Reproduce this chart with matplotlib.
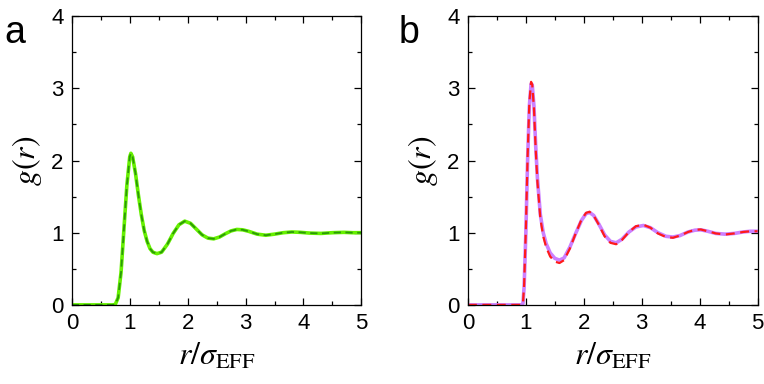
"""Radial distribution functions g(r) for two systems (panels a and b)."""
import matplotlib
matplotlib.use("Agg")
import matplotlib.pyplot as plt
from matplotlib.ticker import MultipleLocator

plt.rcParams["font.family"] = ["Liberation Sans", "DejaVu Sans"]
plt.rcParams["mathtext.fontset"] = "stix"

# panel a: reference (solid) and model (dashed) overlap
r_a = [0.0, 0.70, 0.75, 0.80, 0.85, 0.90, 0.95, 1.00, 1.02, 1.05, 1.10, 1.15,
       1.20, 1.25, 1.30, 1.35, 1.40, 1.47, 1.55, 1.65, 1.75, 1.85, 1.95, 2.05,
       2.15, 2.25, 2.35, 2.45, 2.55, 2.65, 2.75, 2.85, 2.95, 3.05, 3.20, 3.35,
       3.50, 3.65, 3.80, 3.95, 4.10, 4.30, 4.50, 4.70, 4.85, 5.00]
g_a = [0.0, 0.0, 0.005, 0.10, 0.45, 1.05, 1.65, 2.05, 2.10, 2.05, 1.82, 1.52,
       1.25, 1.03, 0.88, 0.78, 0.73, 0.71, 0.73, 0.84, 0.99, 1.11, 1.16, 1.13,
       1.05, 0.97, 0.925, 0.915, 0.94, 0.985, 1.025, 1.045, 1.04, 1.02, 0.98, 0.965,
       0.98, 1.0, 1.01, 1.005, 0.995, 0.99, 1.0, 1.005, 1.0, 1.0]

# panel b
r_b = [0.0, 0.93, 0.95, 0.97, 1.00, 1.03, 1.06, 1.09, 1.11, 1.14, 1.17, 1.20,
       1.25, 1.30, 1.35, 1.42, 1.50, 1.58, 1.66, 1.76, 1.86, 1.96, 2.04, 2.10,
       2.17, 2.26, 2.36, 2.46, 2.56, 2.66, 2.78, 2.90, 3.03, 3.15, 3.28, 3.42,
       3.54, 3.66, 3.80, 3.92, 4.02, 4.14, 4.28, 4.44, 4.60, 4.75, 4.88, 5.00]
g_b_solid = [0.0, 0.0, 0.02, 0.25, 1.0, 2.0, 2.75, 3.06, 3.05, 2.75, 2.2, 1.75,
             1.25, 1.0, 0.85, 0.72, 0.645, 0.62, 0.65, 0.80, 0.99, 1.17, 1.265, 1.28,
             1.24, 1.12, 0.97, 0.88, 0.86, 0.91, 1.01, 1.08, 1.10, 1.07, 1.0, 0.95,
             0.94, 0.96, 1.01, 1.035, 1.04, 1.02, 0.99, 0.98, 0.99, 1.01, 1.02, 1.02]
g_b_dash = [0.0, 0.0, 0.02, 0.28, 1.05, 2.05, 2.80, 3.09, 3.05, 2.72, 2.15, 1.70,
            1.20, 0.95, 0.80, 0.67, 0.60, 0.58, 0.62, 0.78, 0.99, 1.18, 1.275, 1.29,
            1.24, 1.11, 0.95, 0.86, 0.84, 0.90, 1.01, 1.09, 1.11, 1.07, 0.99, 0.94,
            0.93, 0.96, 1.01, 1.04, 1.045, 1.02, 0.99, 0.975, 0.99, 1.01, 1.02, 1.02]

fig = plt.figure(figsize=(7.64, 3.84), dpi=100)
ax_a = fig.add_axes([0.094, 0.206, 0.379, 0.752])
ax_b = fig.add_axes([0.6125, 0.206, 0.379, 0.752])

ax_a.plot(r_a, g_a, color="#66f000", lw=2.6, solid_capstyle="round")
ax_a.plot(r_a, g_a, color="#2a9a08", lw=1.3, dashes=(4, 2.5))

ax_b.plot(r_b, g_b_solid, color="#cc80ff", lw=2.6)
ax_b.plot(r_b, g_b_dash, color="#ff1a1a", lw=1.6, dashes=(4, 2.5))

for ax, tag, xpos in [(ax_a, "a", 0.02), (ax_b, "b", 0.535)]:
    ax.set_xlim(0, 5)
    ax.set_ylim(0, 4)
    ax.xaxis.set_major_locator(MultipleLocator(1))
    ax.xaxis.set_minor_locator(MultipleLocator(0.5))
    ax.yaxis.set_major_locator(MultipleLocator(1))
    ax.yaxis.set_minor_locator(MultipleLocator(0.5))
    ax.tick_params(which="both", direction="in", top=True, right=True,
                   width=0.9, labelsize=16, pad=6)
    ax.tick_params(which="major", length=5)
    ax.tick_params(which="minor", length=3)
    for s in ax.spines.values():
        s.set_linewidth(0.9)
    ax.set_xlabel(r"$r/\sigma_{\mathrm{EFF}}$", fontsize=23, labelpad=5)
    ax.set_ylabel(r"$g(r)$", fontsize=23, labelpad=5)
    fig.text(xpos, 0.915, tag, fontsize=27, ha="center", va="center")

fig.savefig("out.png", dpi=100)
